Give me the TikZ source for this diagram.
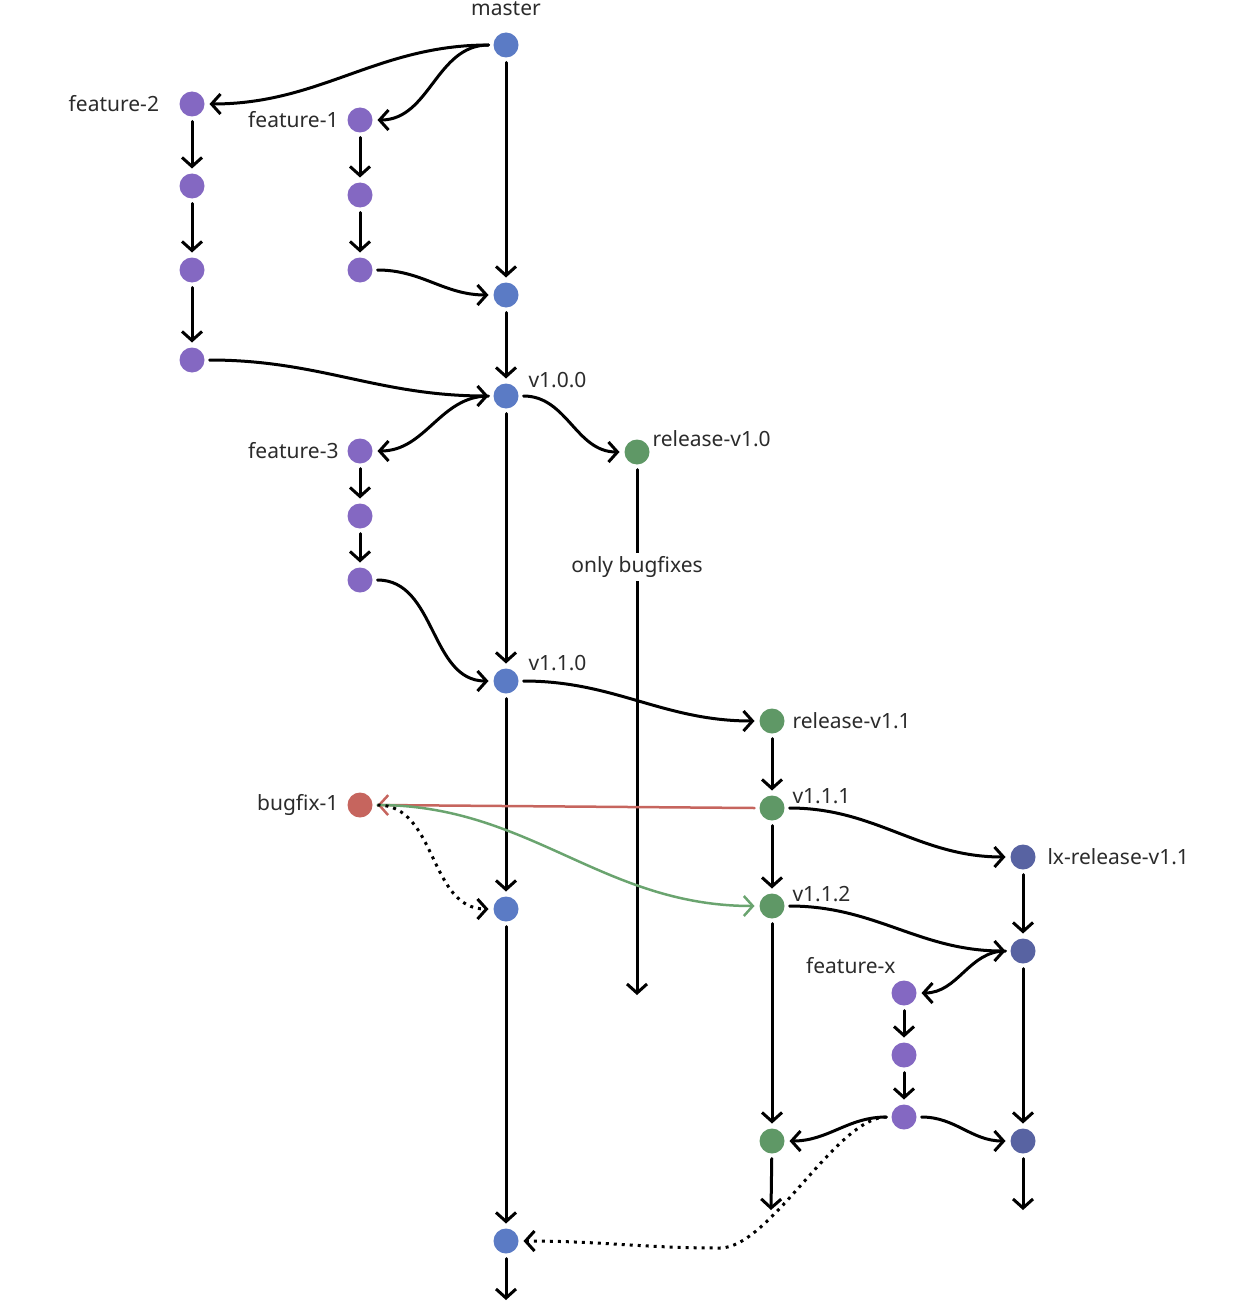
\documentclass[tikz,border=0pt]{standalone}
\usepackage{fontspec}
\setmainfont{Noto Sans}
\usepackage{xcolor}
\usepackage{tikz}
\usetikzlibrary{arrows.meta,positioning,calc}
\definecolor{cmaster}{HTML}{5B7BC5}
\definecolor{cfeat}{HTML}{8468C2}
\definecolor{crel}{HTML}{5F9866}
\definecolor{cfix}{HTML}{C6655E}
\definecolor{clx}{HTML}{5863A2}
\definecolor{cgreenln}{HTML}{6AA46F}
\definecolor{textgray}{HTML}{2B2B2B}

\begin{document}
\begin{tikzpicture}[
  x=1pt, y=-1pt,
  font=\fontsize{21}{25}\selectfont,
  cmt/.style={circle,fill=#1,minimum size=25pt,inner sep=0pt,outer sep=5pt},
  txt/.style={text=textgray,inner sep=0pt},
  dots/.style={dash pattern=on 3pt off 5pt,line cap=butt},
  >={Straight Barb[length=9pt,width=20pt]},
  line width=3pt, line cap=round]
  \useasboundingbox (0,0) rectangle (1250,1316);
  % master
  \node[cmt=cmaster] (m0) at (506,45) {};
  \node[cmt=cmaster] (m1) at (506,295) {};
  \node[cmt=cmaster] (m2) at (506,396) {};
  \node[cmt=cmaster] (m3) at (506,681) {};
  \node[cmt=cmaster] (m4) at (506,909) {};
  \node[cmt=cmaster] (m5) at (506,1241) {};
  \coordinate (m5end) at (506,1300);
  % features
  \node[cmt=cfeat] (f2a) at (192,104) {};
  \node[cmt=cfeat] (f2b) at (192,186) {};
  \node[cmt=cfeat] (f2c) at (192,270) {};
  \node[cmt=cfeat] (f2d) at (192,360) {};
  \node[cmt=cfeat] (f1a) at (360,120) {};
  \node[cmt=cfeat] (f1b) at (360,195) {};
  \node[cmt=cfeat] (f1c) at (360,270) {};
  \node[cmt=cfeat] (f3a) at (360,451) {};
  \node[cmt=cfeat] (f3b) at (360,516) {};
  \node[cmt=cfeat] (f3c) at (360,580) {};
  \node[cmt=cfix] (bfx) at (360,805) {};
  % releases
  \node[cmt=crel] (r0) at (637,452) {};
  \coordinate (r0end) at (637,995);
  \node[cmt=crel] (r1) at (772,721) {};
  \node[cmt=crel] (r2) at (772,808) {};
  \node[cmt=crel] (r3) at (772,906) {};
  \node[cmt=crel] (r4) at (772,1141) {};
  \coordinate (r4end) at (771,1210);
  \node[cmt=clx] (lx0) at (1023,857) {};
  \node[cmt=clx] (lx1) at (1023,951) {};
  \node[cmt=clx] (lx2) at (1023,1141) {};
  \coordinate (lx2end) at (1023,1210);
  \node[cmt=cfeat] (fx0) at (904,993) {};
  \node[cmt=cfeat] (fx1) at (904,1055) {};
  \node[cmt=cfeat] (fx2) at (904,1117) {};
  % labels
  \node[txt,above=10pt of m0] (lmaster) {master};
  \node[txt,left=14pt of f2a] (lf2) {feature-2};
  \node[txt,left=2.5pt of f1a] (lf1) {feature-1};
  \node[txt,left=2.5pt of f3a] (lf3) {feature-3};
  \node[txt,left=2.5pt of bfx] (lbfx) {bugfix-1};
  \node[txt,anchor=west] (lv100) at ($(m2)+(21,-16)$) {v1.0.0};
  \node[txt,anchor=west] (lv110) at ($(m3)+(21,-18)$) {v1.1.0};
  \node[txt,anchor=west] (lr0) at ($(r0)+(14,-13)$) {release-v1.0};
  \node[txt,anchor=west] (lr1) at ($(r1)+(19,0)$) {release-v1.1};
  \node[txt,anchor=west] (lv111) at ($(r2)+(19,-12)$) {v1.1.1};
  \node[txt,anchor=west] (lv112) at ($(r3)+(19,-12)$) {v1.1.2};
  \node[txt,anchor=west] (llx) at ($(lx0)+(23,0)$) {lx-release-v1.1};
  \node[txt,anchor=east] (lfx) at ($(fx0)+(-7,-27)$) {feature-x};
  % history
  \foreach \a/\b in {m0/m1,m1/m2,m2/m3,m3/m4,m4/m5,m5/m5end,
    f2a/f2b,f2b/f2c,f2c/f2d,f1a/f1b,f1b/f1c,f3a/f3b,f3b/f3c,
    r1/r2,r2/r3,r3/r4,r4/r4end,lx0/lx1,lx1/lx2,lx2/lx2end,fx0/fx1,fx1/fx2}
    { \draw[->] (\a) -- (\b); }
  \draw[->] (m0.west) to[out=180,in=0] (f2a.east);
  \draw[->] (m0.west) to[out=180,in=0] (f1a.east);
  \draw[->] (f1c.east) to[out=0,in=180] (m1.west);
  \draw[->] (f2d.east) to[out=0,in=180] (m2.west);
  \draw[->] (m2.west) to[out=180,in=0] (f3a.east);
  \draw[->] (f3c.east) to[out=0,in=180] (m3.west);
  \draw[->] (m2.east) to[out=0,in=180] (r0.west);
  \draw[->] (m3.east) to[out=0,in=180] (r1.west);
  \draw[->] (r2.east) to[out=0,in=180] (lx0.west);
  \draw[->] (r3.east) to[out=0,in=180] (lx1.west);
  \draw[->] (lx1.west) to[out=180,in=0] (fx0.east);
  \draw[->] (fx2.west) to[out=180,in=0] (r4.east);
  \draw[->] (fx2.east) to[out=0,in=180] (lx2.west);
  \draw[->] (r0) -- (r0end);
  \node[txt,fill=white,inner sep=3pt] (lbug) at (637,567) {only bugfixes};
  % bugfix
  \draw[->,cfix,line width=2.5pt] (r2.west) -- (bfx.east);
  \draw[->,cgreenln,line width=2.5pt] (bfx.east) to[out=0,in=180] (r3.west);
  \draw[->,dots] (bfx.east) to[out=0,in=180] (m4.west);
  \draw[->,dots] (fx2.west) .. controls +(-50,0) and +(50,0) .. (720,1248)
    to[out=180,in=0] (m5.east);
\end{tikzpicture}
\end{document}
